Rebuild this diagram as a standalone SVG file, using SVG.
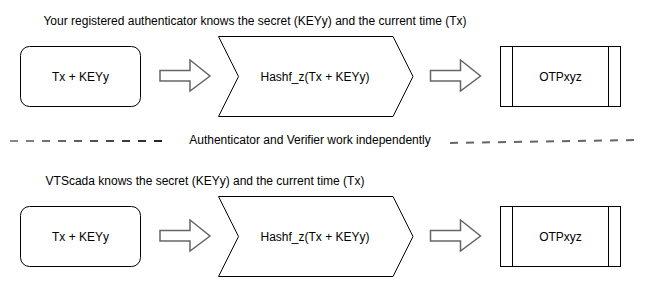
<svg xmlns="http://www.w3.org/2000/svg" width="653" height="289" viewBox="0 0 653 289">
<style>
.t{font-family:"Liberation Sans",Arial,sans-serif;font-size:12px;fill:#000;text-anchor:middle}
.n{fill:#fff;stroke:#000;stroke-width:1}
.ba{fill:#fff;stroke:#666;stroke-width:1.5}
.dash{fill:none;stroke-width:2;stroke-dasharray:8 8}
</style>
<defs>
<linearGradient id="gl" gradientUnits="userSpaceOnUse" x1="10" y1="0" x2="163" y2="0">
<stop offset="0" stop-color="#8a8a8a"/>
<stop offset="1" stop-color="#222"/>
</linearGradient>
<path id="barrow" d="M0,-5.5 H30 V-16 L50,0 L30,15 V5 H0 Z"/>
</defs>
<rect width="653" height="289" fill="#fff"/>
<text class="t" x="255" y="25">Your registered authenticator knows the secret (KEYy) and the current time (Tx)</text>
<text class="t" x="205" y="185">VTScada knows the secret (KEYy) and the current time (Tx)</text>
<text class="t" x="310" y="144">Authenticator and Verifier work independently</text>
<g id="connectors">
<line class="dash" x1="10" y1="141" x2="166" y2="141" stroke="url(#gl)"/>
<line class="dash" x1="450" y1="143" x2="636" y2="140" stroke="#666"/>
<use href="#barrow" class="ba" x="160" y="76"/>
<use href="#barrow" class="ba" x="430.5" y="76"/>
<use href="#barrow" class="ba" x="160" y="236"/>
<use href="#barrow" class="ba" x="430.5" y="236"/>
</g>
<g id="input1">
<rect class="n" x="20.5" y="46.5" width="120" height="60" rx="9"/>
<text class="t" x="80.5" y="80.5">Tx + KEYy</text>
</g>
<g id="hash1">
<polygon class="n" points="218.5,36.5 393,36.5 413,76.5 393,116.5 218.5,116.5 238.5,76.5"/>
<text class="t" x="315" y="80.5">Hashf_z(Tx + KEYy)</text>
</g>
<g id="otp1">
<rect class="n" x="500.5" y="46.5" width="120" height="60"/>
<line x1="512.5" y1="46.5" x2="512.5" y2="106.5" stroke="#000"/>
<line x1="608.5" y1="46.5" x2="608.5" y2="106.5" stroke="#000"/>
<text class="t" x="560.5" y="80.5">OTPxyz</text>
</g>
<g id="input2">
<rect class="n" x="20.5" y="206.5" width="120" height="60" rx="9"/>
<text class="t" x="80.5" y="240.5">Tx + KEYy</text>
</g>
<g id="hash2">
<polygon class="n" points="218.5,196.5 393,196.5 413,236.5 393,276.5 218.5,276.5 238.5,236.5"/>
<text class="t" x="315" y="240.5">Hashf_z(Tx + KEYy)</text>
</g>
<g id="otp2">
<rect class="n" x="500.5" y="206.5" width="120" height="60"/>
<line x1="512.5" y1="206.5" x2="512.5" y2="266.5" stroke="#000"/>
<line x1="608.5" y1="206.5" x2="608.5" y2="266.5" stroke="#000"/>
<text class="t" x="560.5" y="240.5">OTPxyz</text>
</g>
</svg>
